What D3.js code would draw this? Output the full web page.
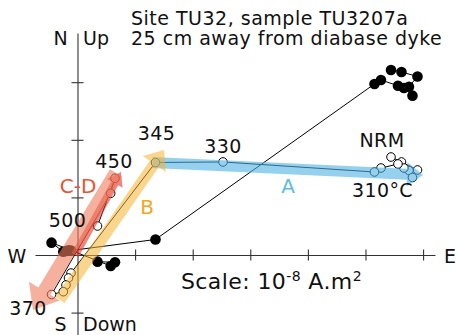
<!DOCTYPE html>
<html>
<head>
<meta charset="utf-8">
<script src="https://cdn.jsdelivr.net/npm/d3@7"></script>
<style>
  body { margin: 0; background: #fff; }
  svg { display: block; font-family: Verdana, "DejaVu Sans", sans-serif; }
</style>
</head>
<body>
<svg id="chart" width="457" height="335"></svg>
<script>
// demagnetisation steps, in order (units: one tick = 1 x 10^-8 A.m2)
const stepLabels = ['NRM', '', '', '', '', '', '', '', '310°C', '330', '345', '', '', '', '', '370', '', '450', '500']
const east = [5.443, 5.625, 5.903, 5.755, 5.816, 5.668, 5.564, 5.269, 5.156, 2.526, 1.354, -0.113, -0.156, -0.200, -0.247, -0.451, 0.576, 0.651, 0.347]
const north = [3.212, 3.177, 3.099, 2.922, 2.766, 2.899, 2.939, 3.038, 2.969, null, 0.269, 0.078, 0.080, 0.069, 0.057, 0.214, -0.191, -0.127, -0.116]
const up = [1.701, 1.615, 1.476, 1.467, 1.345, 1.510, 1.580, 1.510, 1.441, 1.615, 1.606, -0.313, -0.399, -0.521, -0.637, -0.686, 1.071, 1.332, 0.503]

// fitted components (vertical projection), from -> to
const componentNames = ['A', 'B', 'C', 'D']
const componentFrom = [[1.30, 1.607], [-0.304, -0.781], [-0.043, 0.0], [0.668, 1.424]]
const componentTo = [[6.0, 1.39], [1.502, 1.823], [0.755, 1.441], [-0.773, -0.955]]

const xTicks = [1, 2, 3, 4, 5, 6]
const yTicks = [-1, 1, 2, 3]

const svg = d3.select('#chart')
const x = d3.scaleLinear().domain([-0.738, 6.207]).range([35, 435])
const y = d3.scaleLinear().domain([-1.389, 3.854]).range([335, 33])

const steps = stepLabels.map((label, i) => ({ label, e: east[i], n: north[i], u: up[i] }))

// axes
const xAxis = svg.append('g')
  .attr('transform', `translate(0,${y(0)})`)
  .call(d3.axisBottom(x).tickValues(xTicks).tickSizeOuter(0).tickSizeInner(5.5).tickFormat(''))
xAxis.selectAll('.tick line').attr('y1', -5.5).attr('y2', 5.5)

const yAxis = svg.append('g')
  .attr('transform', `translate(${x(0)},0)`)
  .call(d3.axisLeft(y).tickValues(yTicks).tickSizeOuter(0).tickSizeInner(6).tickFormat(''))
yAxis.selectAll('.tick line').attr('x1', -6).attr('x2', 6)

svg.selectAll('.domain, .tick line').attr('stroke', '#333').attr('stroke-width', 1.1)

const axisFont = 19
const axisText = [
  { t: 'N', px: x(0) - 17, py: 45, anchor: 'middle' },
  { t: 'Up', px: x(0) + 5.5, py: 45, anchor: 'start' },
  { t: 'S', px: x(0) - 17, py: 331, anchor: 'middle' },
  { t: 'Down', px: x(0) + 5.5, py: 331, anchor: 'start' },
  { t: 'W', px: 17, py: y(0) + 8, anchor: 'middle' },
  { t: 'E', px: 444, py: y(0) + 8, anchor: 'start' }
]
svg.append('g').selectAll('text')
  .data(axisText)
  .enter().append('text')
  .attr('x', d => d.px)
  .attr('y', d => d.py)
  .attr('text-anchor', d => d.anchor)
  .attr('font-size', axisFont)
  .attr('fill', '#111')
  .text(d => d.t)

// connecting lines
const horiz = steps.filter(d => d.n !== null)
svg.append('path')
  .datum(horiz)
  .attr('fill', 'none')
  .attr('stroke', '#000')
  .attr('stroke-width', 1)
  .attr('d', d3.line().x(d => x(d.e)).y(d => y(d.n)))

svg.append('path')
  .datum(steps)
  .attr('fill', 'none')
  .attr('stroke', '#000')
  .attr('stroke-width', 1)
  .attr('d', d3.line().x(d => x(d.e)).y(d => y(d.u)))

// points: filled = horizontal (E, N), open = vertical (E, Up)
svg.append('g').selectAll('circle')
  .data(horiz)
  .enter().append('circle')
  .attr('cx', d => x(d.e))
  .attr('cy', d => y(d.n))
  .attr('r', 5.3)
  .attr('fill', '#000')

svg.append('g').selectAll('circle')
  .data(steps)
  .enter().append('circle')
  .attr('cx', d => x(d.e))
  .attr('cy', d => y(d.u))
  .attr('r', 4.3)
  .attr('fill', '#fff')
  .attr('stroke', '#000')
  .attr('stroke-width', 1)

// component arrows, drawn translucent over the points
const arrowStyle = {
  A: { fill: '#4fb3e3', opacity: 0.6, w: 11, hw: 12, len: 16 },
  B: { fill: '#f6b232', opacity: 0.55, w: 11, hw: 14, len: 17 },
  C: { fill: '#e2362a', opacity: 0.6, w: 8, hw: 9, len: 13 },
  D: { fill: '#ee7d5d', opacity: 0.6, w: 14, hw: 18, len: 22 }
}

function arrowPoints (from, to, s) {
  const p0 = [x(from[0]), y(from[1])]
  const p1 = [x(to[0]), y(to[1])]
  const dx = p1[0] - p0[0]
  const dy = p1[1] - p0[1]
  const l = Math.hypot(dx, dy)
  const ux = dx / l
  const uy = dy / l
  const px = -uy
  const py = ux
  const b = [p1[0] - ux * s.len, p1[1] - uy * s.len]
  return [
    [p0[0] + px * s.w / 2, p0[1] + py * s.w / 2],
    [b[0] + px * s.w / 2, b[1] + py * s.w / 2],
    [b[0] + px * s.hw, b[1] + py * s.hw],
    p1,
    [b[0] - px * s.hw, b[1] - py * s.hw],
    [b[0] - px * s.w / 2, b[1] - py * s.w / 2],
    [p0[0] - px * s.w / 2, p0[1] - py * s.w / 2]
  ]
}

svg.append('g').selectAll('path')
  .data(componentNames)
  .enter().append('path')
  .attr('d', (name, i) => d3.line()(arrowPoints(componentFrom[i], componentTo[i], arrowStyle[name])) + 'Z')
  .attr('fill', name => arrowStyle[name].fill)
  .attr('fill-opacity', name => arrowStyle[name].opacity)

// step labels (offsets relative to the open point)
const labelOffset = {
  'NRM': [-9, -10],
  '310°C': [8, 25],
  '330': [0, -9],
  '345': [1, -22],
  '370': [-23.5, 20.5],
  '450': [-1, -10],
  '500': [-30, 1]
}
svg.append('g').selectAll('text')
  .data(steps.filter(d => d.label !== ''))
  .enter().append('text')
  .attr('x', d => x(d.e) + labelOffset[d.label][0])
  .attr('y', d => y(d.u) + labelOffset[d.label][1])
  .attr('text-anchor', 'middle')
  .attr('font-size', 19)
  .attr('letter-spacing', 0.4)
  .attr('fill', '#111')
  .text(d => d.label)

// component labels
const componentLabels = [
  { t: 'A', e: 3.655, u: 1.076, color: '#5bbde4' },
  { t: 'B', e: 1.207, u: 0.712, color: '#f5a623' },
  { t: 'C-D', e: 0.009, u: 1.076, color: '#f0522e' }
]
svg.append('g').selectAll('text')
  .data(componentLabels)
  .enter().append('text')
  .attr('x', d => x(d.e))
  .attr('y', d => y(d.u))
  .attr('text-anchor', 'middle')
  .attr('font-size', 20)
  .attr('fill', d => d.color)
  .text(d => d.t)

// title
const title = svg.append('text')
  .attr('x', 131)
  .attr('y', 25)
  .attr('font-size', 19)
  .attr('letter-spacing', 0.5)
  .attr('fill', '#111')
title.append('tspan').text('Site TU32, sample TU3207a')
title.append('tspan').attr('x', 131).attr('dy', 20).text('25 cm away from diabase dyke')

// scale note
const scale = svg.append('text')
  .attr('x', 181)
  .attr('y', 289)
  .attr('font-size', 22)
  .attr('letter-spacing', 0.4)
  .attr('fill', '#111')
scale.append('tspan').text('Scale: 10')
scale.append('tspan').attr('font-size', 14).attr('dy', -8).text('-8')
scale.append('tspan').attr('dy', 8).text('\u00a0A.m')
scale.append('tspan').attr('font-size', 14).attr('dy', -8).text('2')
</script>
</body>
</html>
